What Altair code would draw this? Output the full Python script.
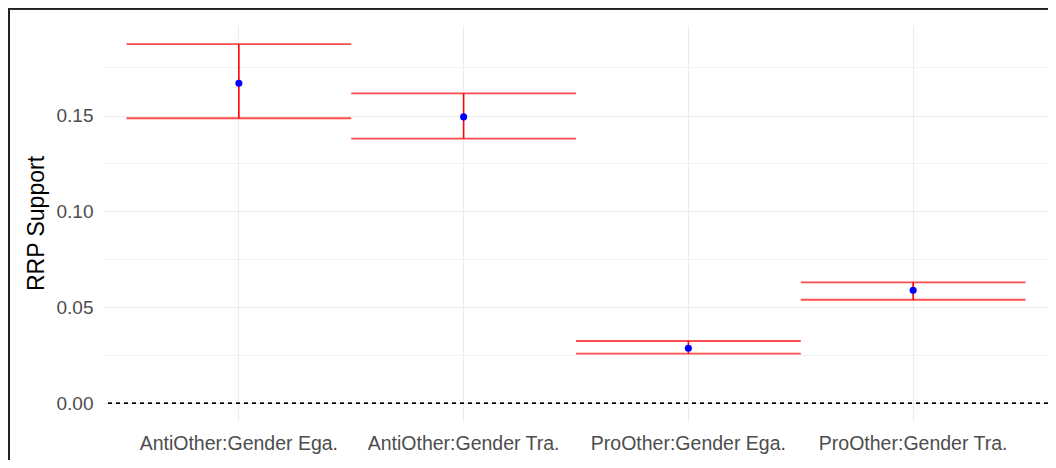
import altair as alt
import pandas as pd

categories = ["AntiOther:Gender Ega.", "AntiOther:Gender Tra.",
              "ProOther:Gender Ega.", "ProOther:Gender Tra."]
estimates = [0.1668, 0.1493, 0.0287, 0.0589]
lower = [0.1486, 0.1380, 0.0259, 0.0540]
upper = [0.1872, 0.1616, 0.0325, 0.0631]
y_ticks = [0.0, 0.05, 0.10, 0.15]
y_minor = [0.025, 0.075, 0.125, 0.175]

df = pd.DataFrame({"term": categories, "est": estimates, "lo": lower, "hi": upper})
minor_df = pd.DataFrame({"v": y_minor})

W, H = 944, 396
step = W / 4.2

font = "Liberation Sans"
y_scale = alt.Scale(domain=[-0.0092, 0.1972], nice=False, zero=False)
x_enc = alt.X("term:N", sort=categories,
              scale=alt.Scale(type="band", paddingInner=0, paddingOuter=0.1),
              axis=alt.Axis(title=None, labelAngle=0, bandPosition=0.5, grid=True,
                            ticks=False, domain=False, labelFontSize=19.5,
                            labelColor="#4D4D4D", labelPadding=13, labelLimit=400,
                            gridColor="#EBEBEB", gridWidth=1.1, labelFont=font))
y_axis = alt.Axis(values=y_ticks, format=".2f", title="RRP Support",
                  titleFontSize=23, titleFontWeight="normal", titleColor="black",
                  titleFont=font, titleX=-60.5, titleBaseline="alphabetic",
                  labelFontSize=19, labelColor="#4D4D4D", labelPadding=11,
                  labelFont=font, ticks=False, domain=False,
                  gridColor="#EBEBEB", gridWidth=1.1)

base = alt.Chart(df)

minor = alt.Chart(minor_df).mark_rule(color="#EFEFEF", strokeWidth=0.8).encode(
    y=alt.Y("v:Q", scale=y_scale, axis=y_axis))

zero = alt.Chart(minor_df).mark_rule(color="black", strokeDash=[4, 4], strokeWidth=1.1).encode(
    y=alt.datum(0, scale=y_scale, axis=y_axis))

vlines = base.mark_rule(color="#FF0000", strokeWidth=1.6).encode(
    x=x_enc, y=alt.Y("lo:Q", scale=y_scale, axis=y_axis), y2="hi:Q")

cap_lo = base.mark_tick(color="#FF0000", thickness=1.8, size=step, orient="horizontal").encode(
    x=x_enc, y=alt.Y("lo:Q", scale=y_scale, axis=y_axis))
cap_hi = base.mark_tick(color="#FF0000", thickness=1.8, size=step, orient="horizontal").encode(
    x=x_enc, y=alt.Y("hi:Q", scale=y_scale, axis=y_axis))

points = base.mark_circle(color="#0000FF", size=50, opacity=1).encode(
    x=x_enc, y=alt.Y("est:Q", scale=y_scale, axis=y_axis))

border_v = alt.Chart(minor_df).mark_rule(color="#222222", strokeWidth=2).encode(
    x=alt.value(-95), y=alt.value(-17), y2=alt.value(H + 60))
border_h = alt.Chart(minor_df).mark_rule(color="#222222", strokeWidth=2).encode(
    x=alt.value(-96), x2=alt.value(W + 20), y=alt.value(-16.5))

chart = alt.layer(minor, zero, vlines, cap_lo, cap_hi, points, border_v, border_h).properties(
    width=W, height=H,
    padding={"left": 96, "top": 17, "right": 0, "bottom": 39},
    autosize=alt.AutoSizeParams(type="none"),
    background="white",
).configure_view(stroke=None)

chart.save("out.html", embed_options={"renderer": "svg", "actions": False})
